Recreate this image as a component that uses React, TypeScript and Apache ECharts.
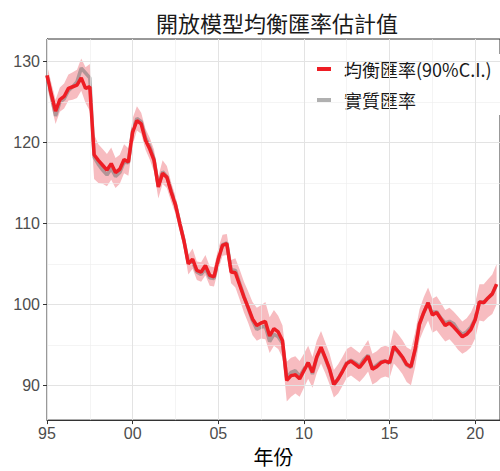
import React, { useEffect, useRef } from "react";
import * as echarts from "echarts";

// quarterly data, 1995Q1 .. 2021Q2
const startYear = 1995;
const equilibrium = [
  128.3, 126.0, 123.9, 125.3, 125.7, 126.7, 126.9, 127.1, 128.0, 126.7, 126.9, 118.5,
  117.8, 117.2, 116.6, 117.4, 116.3, 116.7, 117.9, 117.6, 121.3, 122.7, 122.3, 120.3,
  119.2, 117.8, 114.5, 116.2, 115.7, 113.9, 112.3, 110.0, 107.8, 105.0, 105.6, 104.2,
  104.0, 104.8, 103.6, 103.4, 105.6, 107.3, 107.5, 104.0, 103.9, 102.4, 100.9, 99.6,
  98.2, 97.4, 97.7, 97.9, 96.1, 97.0, 96.6, 95.5, 90.6, 91.2, 91.3, 90.8,
  91.8, 92.8, 91.6, 93.5, 94.7, 93.4, 92.0, 90.1, 90.8, 91.7, 92.7, 93.0,
  92.6, 92.2, 92.9, 93.6, 92.0, 92.3, 92.8, 93.0, 92.8, 94.8, 94.2, 93.5,
  92.6, 92.3, 94.5, 97.6, 99.0, 100.2, 98.7, 99.0, 98.2, 97.4, 97.7, 97.2,
  96.6, 96.0, 96.3, 96.9, 98.1, 100.3, 100.2, 100.8, 101.3, 102.5,
];
const realRate = [
  128.3, 125.8, 123.3, 125.0, 125.4, 126.4, 126.9, 127.5, 129.2, 128.6, 128.0, 118.2,
  117.3, 116.6, 116.0, 116.8, 115.8, 116.3, 117.6, 117.5, 121.5, 123.0, 122.6, 120.6,
  119.5, 118.0, 114.6, 116.4, 115.8, 114.0, 112.4, 110.1, 107.9, 105.2, 105.3, 104.0,
  103.7, 104.4, 103.3, 103.2, 105.5, 107.4, 107.6, 104.3, 104.2, 102.6, 101.0, 99.5,
  98.0, 96.9, 97.2, 97.3, 95.4, 96.3, 96.0, 95.2, 90.9, 91.6, 91.8, 91.1,
  92.0, 92.8, 91.4, 93.4, 94.6, 93.3, 91.9, 90.0, 90.8, 91.8, 92.8, 93.1,
  92.8, 92.4, 93.2, 93.7, 92.1, 92.5, 92.9, 93.0, 92.7, 94.7, 94.1, 93.4,
  92.5, 92.2, 94.4, 97.6, 99.0, 100.2, 99.0, 99.1, 98.3, 97.7, 97.9, 97.6,
  96.8, 96.3, 96.6, 97.2, 98.2, 100.3, 100.3, 100.8, 101.3, 102.4,
];
const ciUpper = [
  129.6, 127.4, 125.3, 126.8, 127.3, 128.4, 128.7, 129.0, 130.4, 129.3, 129.7, 121.0,
  119.8, 119.2, 118.6, 119.4, 118.1, 118.5, 119.8, 119.3, 123.0, 124.5, 123.7, 121.7,
  120.6, 119.1, 115.8, 117.8, 117.1, 115.1, 113.4, 111.0, 108.8, 106.1, 106.9, 105.3,
  105.2, 106.1, 104.7, 104.6, 106.9, 108.6, 108.7, 105.5, 105.7, 104.3, 102.8, 101.6,
  100.3, 99.6, 99.9, 100.3, 98.4, 99.3, 98.6, 97.4, 92.9, 93.4, 93.6, 93.0,
  93.9, 94.9, 93.5, 95.5, 96.7, 95.3, 93.9, 91.9, 92.6, 93.5, 94.5, 94.8,
  94.4, 94.0, 94.8, 95.6, 93.9, 94.2, 94.7, 94.9, 94.7, 96.9, 96.3, 95.6,
  94.7, 94.4, 96.6, 99.4, 100.9, 102.1, 100.7, 101.0, 100.2, 99.3, 99.6, 99.1,
  98.5, 97.9, 98.3, 99.0, 100.2, 102.5, 102.5, 103.1, 103.7, 105.0,
];
const ciLower = [
  127.0, 124.6, 122.3, 123.8, 124.2, 125.2, 125.3, 125.5, 126.4, 124.9, 123.9, 115.5,
  115.0, 114.9, 114.6, 115.4, 114.4, 114.9, 116.2, 115.9, 119.7, 121.5, 121.1, 119.1,
  117.9, 116.4, 113.1, 114.9, 114.4, 112.7, 111.2, 109.0, 106.8, 103.7, 104.4, 103.0,
  102.8, 103.6, 102.3, 102.2, 104.3, 106.0, 106.1, 102.6, 102.1, 100.6, 99.0, 97.7,
  96.2, 95.5, 95.8, 95.7, 94.0, 94.9, 94.5, 93.4, 88.0, 88.6, 89.0, 88.6,
  89.7, 90.8, 89.7, 91.5, 92.7, 91.5, 90.1, 88.5, 89.0, 89.9, 90.9, 91.2,
  90.8, 90.4, 91.0, 91.7, 90.1, 90.4, 90.9, 91.1, 90.9, 92.7, 92.1, 91.4,
  90.4, 90.0, 92.3, 95.6, 96.9, 98.0, 96.5, 96.8, 96.1, 95.4, 95.7, 95.1,
  94.4, 93.9, 94.2, 94.7, 95.8, 98.0, 97.9, 98.4, 98.8, 100.0,
];
const xMajorTicks = [1995, 2000, 2005, 2010, 2015, 2020];
const xMinorLines = [1997.5, 2002.5, 2007.5, 2012.5, 2017.5];
const yMajorTicks = [90, 100, 110, 120, 130];
const yMinorLines = [95, 105, 115, 125];

const titleText = "開放模型均衡匯率估計值";
const eqName = "均衡匯率(90%C.I.)";
const realName = "實質匯率";
const xName = "年份";

const CJK = "'Noto Sans CJK TC', 'Noto Sans CJK SC', sans-serif";
const NUM = "'Liberation Sans', Arial, sans-serif";

export default function App() {
  const ref = useRef<HTMLDivElement>(null);
  useEffect(() => {
    if (!ref.current) return;
    const chart = echarts.init(ref.current, null, { renderer: "svg" });
    const quarters = equilibrium.map((_, i) => startYear + i / 4);
    const pairs = (arr: number[]) => quarters.map((q, i) => [q, arr[i]]);
    const bandData = quarters.map((q, i) => [q, ciLower[i], ciUpper[i]]);
    const major = { color: "#e3e3e3", width: 1, type: "solid" };
    const minor = { color: "#ececec", width: 0.6, type: "solid" };
    const option: any = {
      animation: false,
      grid: {
        left: 47,
        right: -2,
        top: 39,
        bottom: 47,
        show: true,
        borderColor: "#333",
        borderWidth: 1,
        backgroundColor: "transparent",
      },
      graphic: [
        {
          type: "text",
          x: 277,
          y: 22,
          style: {
            text: titleText,
            font: `22px ${CJK}`,
            fill: "#1a1a1a",
            textAlign: "center",
            textVerticalAlign: "middle",
          },
        },
      ],
      legend: {
        orient: "vertical",
        left: 310,
        top: 54,
        backgroundColor: "#ffffff",
        padding: [6, 40, 6, 7],
        itemWidth: 14,
        itemHeight: 4,
        itemGap: 13,
        icon: "rect",
        data: [
          { name: eqName, itemStyle: { color: "#ee1d24" } },
          { name: realName, itemStyle: { color: "#b0b0b0" } },
        ],
        textStyle: {
          fontSize: 18,
          color: "#1a1a1a",
          fontFamily: CJK,
          padding: [0, 0, 0, 8],
        },
      },
      xAxis: {
        type: "value",
        min: 1995,
        max: 2021.45,
        name: xName,
        nameLocation: "middle",
        nameGap: 22,
        nameTextStyle: { fontSize: 20, color: "#000", fontFamily: CJK },
        axisLine: { show: true, lineStyle: { color: "#333", width: 1 } },
        axisTick: { show: true, length: 4, customValues: xMajorTicks, lineStyle: { color: "#333" } },
        axisLabel: {
          customValues: xMajorTicks,
          formatter: (v: number) => String(Math.round(v) % 100).padStart(2, "0"),
          color: "#4d4d4d",
          fontSize: 16,
          fontFamily: NUM,
          margin: 5,
        },
        splitLine: { show: false },
      },
      yAxis: {
        type: "value",
        min: 85.7,
        max: 132.8,
        axisLine: { show: true, lineStyle: { color: "#333", width: 1 } },
        axisTick: { show: true, length: 4, customValues: yMajorTicks, lineStyle: { color: "#333" } },
        axisLabel: {
          customValues: yMajorTicks,
          formatter: (v: number) => String(Math.round(v)),
          color: "#4d4d4d",
          fontSize: 16,
          fontFamily: NUM,
          margin: 7,
        },
        splitLine: { show: false },
      },
      series: [
        {
          type: "line",
          name: "grid",
          data: [[1995, 90]],
          showSymbol: false,
          lineStyle: { opacity: 0 },
          z: 1,
          silent: true,
          markLine: {
            silent: true,
            symbol: ["none", "none"],
            label: { show: false },
            animation: false,
            data: [
              ...yMinorLines.map((v) => ({ yAxis: v, lineStyle: minor })),
              ...xMinorLines.map((v) => ({ xAxis: v, lineStyle: minor })),
              ...yMajorTicks.map((v) => ({ yAxis: v, lineStyle: major })),
              ...xMajorTicks.map((v) => ({ xAxis: v, lineStyle: major })),
            ],
          },
        },
        {
          type: "custom",
          name: "ciBand",
          data: bandData,
          encode: { x: 0, y: [1, 2] },
          z: 3,
          silent: true,
          renderItem: (params: any, api: any) => {
            if (params.dataIndex !== 0) return null;
            const upperPts = bandData.map((d) => api.coord([d[0], d[2]]));
            const lowerPts = bandData.map((d) => api.coord([d[0], d[1]])).reverse();
            return {
              type: "polygon",
              shape: { points: upperPts.concat(lowerPts) },
              style: { fill: "#f7bcc0", stroke: "none" },
            };
          },
        },
        {
          type: "line",
          name: realName,
          data: pairs(realRate),
          showSymbol: false,
          symbol: "none",
          itemStyle: { color: "#b0b0b0" },
          lineStyle: { color: "rgba(110,110,110,0.5)", width: 3.5 },
          z: 4,
        },
        {
          type: "line",
          name: eqName,
          data: pairs(equilibrium),
          showSymbol: false,
          symbol: "none",
          itemStyle: { color: "#ee1d24" },
          lineStyle: { color: "#ee1d24", width: 3.5 },
          z: 5,
        },
      ],
    };
    chart.setOption(option);
    return () => chart.dispose();
  }, []);
  return (
    <div
      ref={ref}
      style={{ position: "fixed", left: 0, top: 0, width: 500, height: 471, background: "#fff" }}
    />
  );
}
